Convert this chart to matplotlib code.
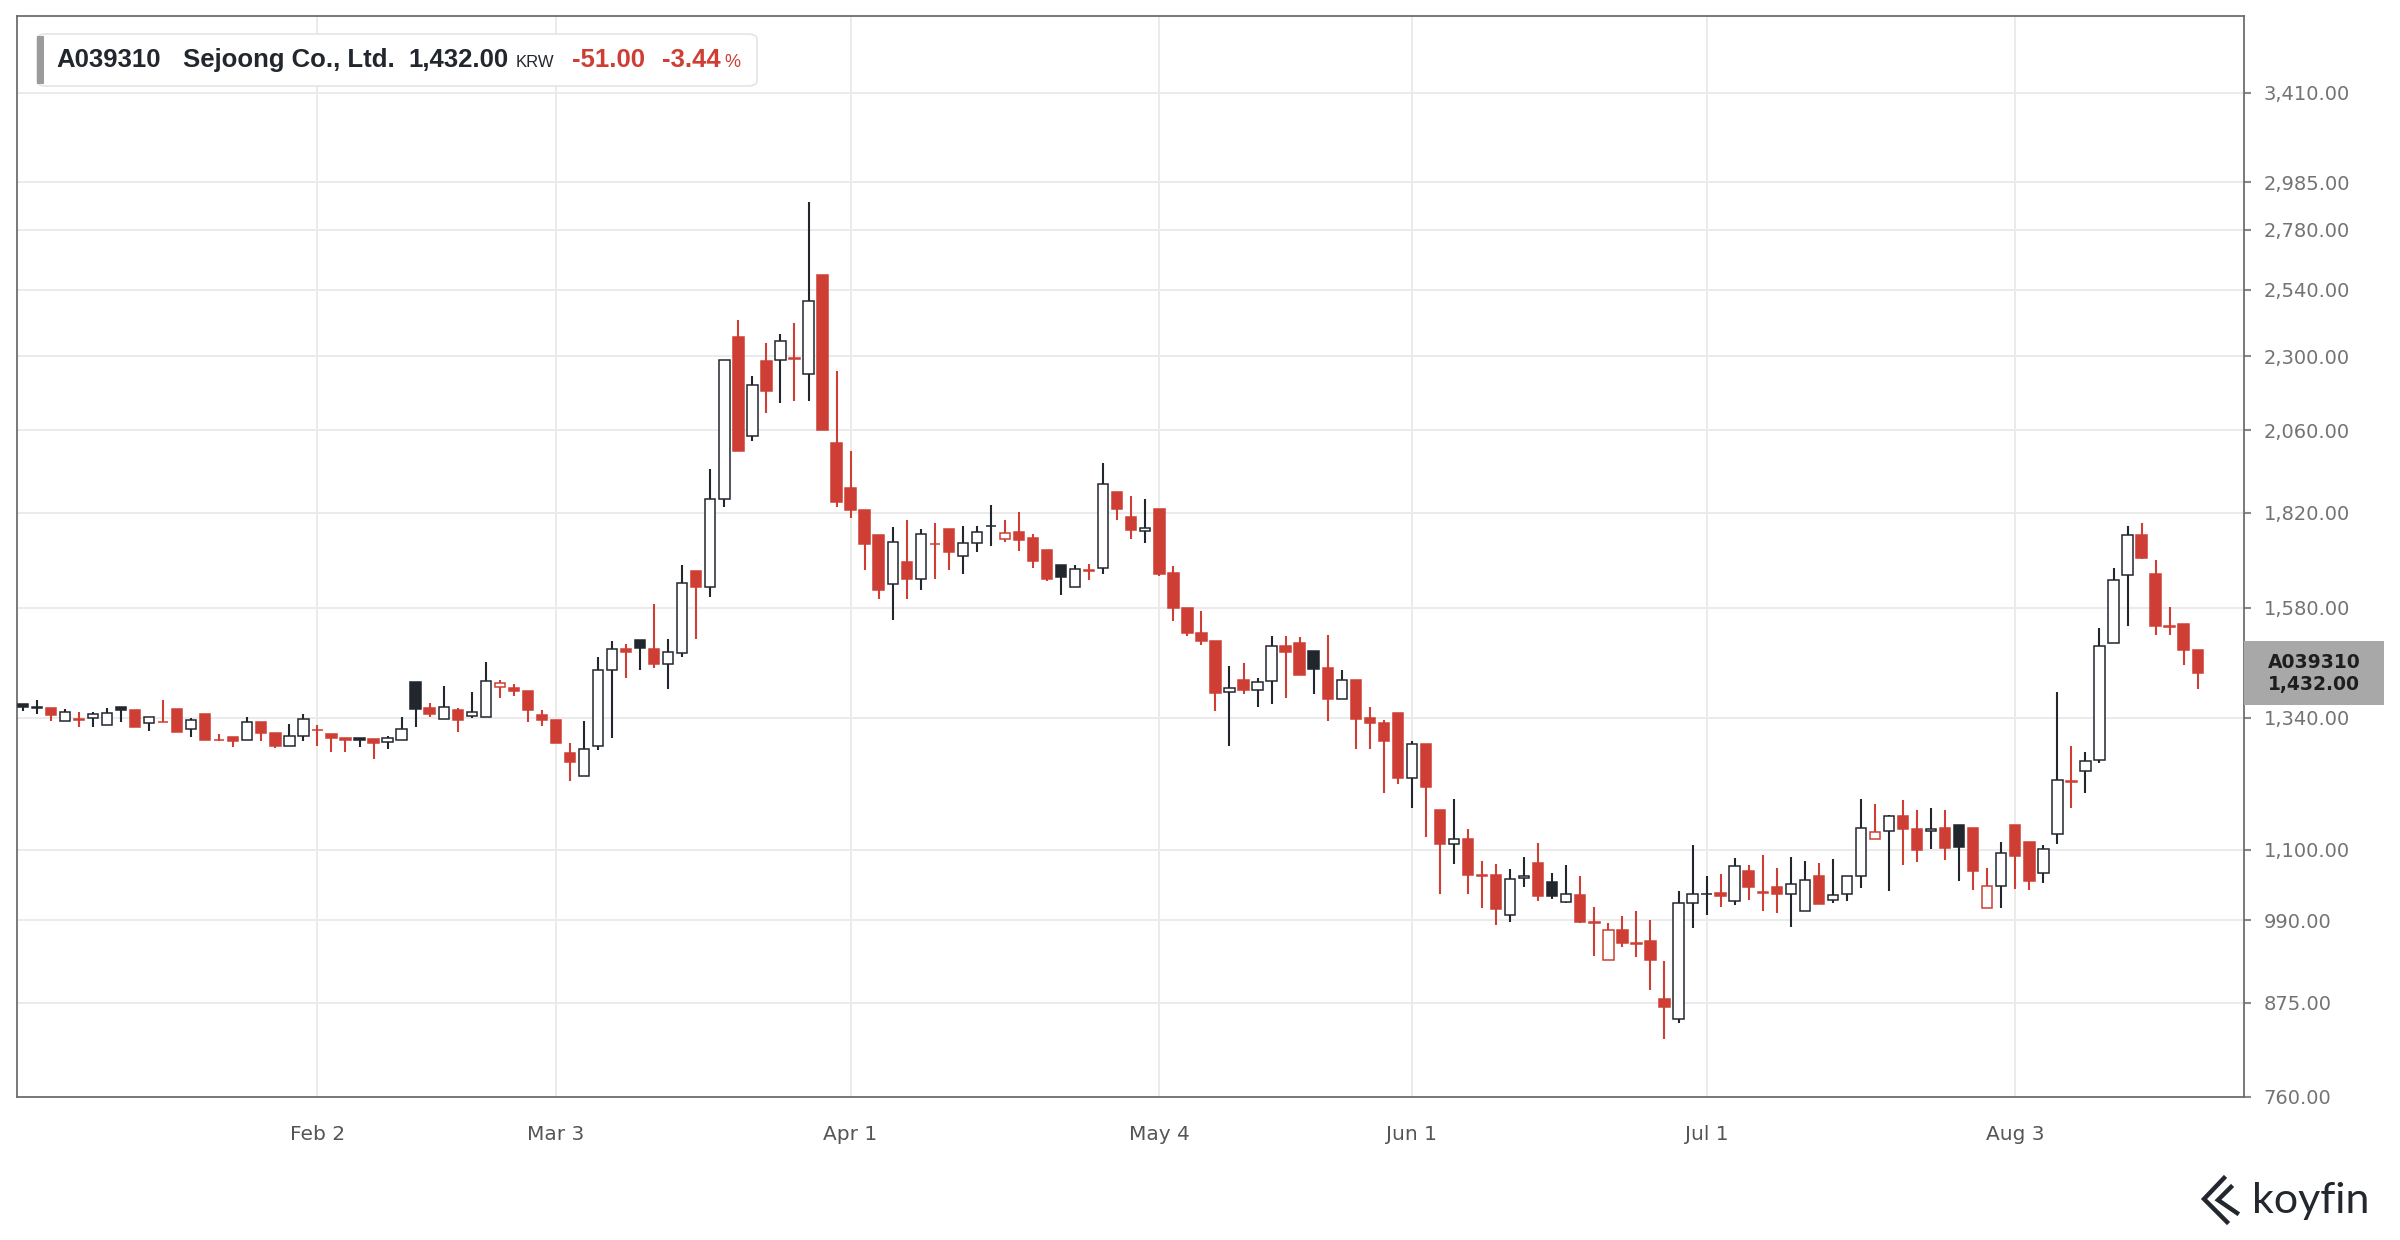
import numpy as np
import matplotlib.pyplot as plt
from matplotlib.patches import FancyBboxPatch, Rectangle
from matplotlib.lines import Line2D
from matplotlib.ticker import FixedLocator, NullLocator, FuncFormatter

# daily OHLC, KRW
opens = [1367, 1360, 1359, 1333, 1337, 1340, 1325, 1362, 1356, 1329,
         1332, 1357, 1317, 1347, 1297, 1302, 1297, 1331, 1309, 1285,
         1304, 1316, 1307, 1299, 1299, 1298, 1292, 1297, 1414, 1359,
         1337, 1356, 1343, 1341, 1403, 1400, 1395, 1346, 1336, 1272,
         1228, 1285, 1439, 1486, 1506, 1485, 1452, 1476, 1669, 1630,
         1857, 2369, 2043, 2285, 2288, 2293, 2239, 2599, 2020, 1890,
         1829, 1762, 1636, 1691, 1650, 1738, 1776, 1707, 1740, 1785,
         1750, 1768, 1752, 1723, 1683, 1628, 1670, 1675, 1879, 1808,
         1772, 1832, 1664, 1578, 1522, 1503, 1393, 1417, 1396, 1415,
         1492, 1498, 1481, 1443, 1378, 1417, 1339, 1329, 1349, 1224,
         1289, 1168, 1110, 1117, 1059, 1059, 998, 1054, 1078, 1048,
         1017, 1028, 987, 933, 975, 957, 959, 880, 854, 1015,
         1029, 1031, 1019, 1065, 1032, 1041, 1029, 1003, 1057, 1021,
         1029, 1058, 1118, 1131, 1157, 1134, 1131, 1136, 1141, 1137,
         1008, 1042, 1141, 1112, 1062, 1126, 1219, 1238, 1257, 1499,
         1659, 1761, 1662, 1537, 1542, 1482]
highs = [1367, 1376, 1359, 1357, 1352, 1352, 1359, 1362, 1356, 1341,
         1376, 1357, 1339, 1347, 1307, 1302, 1342, 1331, 1309, 1327,
         1347, 1325, 1307, 1299, 1299, 1298, 1304, 1341, 1414, 1369,
         1405, 1359, 1393, 1457, 1417, 1410, 1395, 1356, 1336, 1290,
         1334, 1468, 1503, 1497, 1506, 1588, 1508, 1683, 1669, 1943,
         2289, 2430, 2232, 2347, 2378, 2419, 2899, 2599, 2249, 1998,
         1829, 1762, 1783, 1802, 1778, 1794, 1776, 1786, 1784, 1843,
         1801, 1823, 1763, 1723, 1683, 1683, 1686, 1961, 1879, 1866,
         1859, 1832, 1681, 1578, 1572, 1503, 1448, 1455, 1422, 1513,
         1513, 1511, 1481, 1516, 1439, 1417, 1362, 1335, 1349, 1295,
         1289, 1168, 1187, 1134, 1082, 1077, 1069, 1088, 1111, 1062,
         1075, 1058, 1010, 986, 996, 1004, 990, 932, 1034, 1108,
         1057, 1061, 1087, 1075, 1091, 1071, 1088, 1082, 1078, 1085,
         1058, 1186, 1178, 1158, 1184, 1167, 1170, 1168, 1141, 1137,
         1070, 1113, 1141, 1112, 1107, 1393, 1284, 1273, 1533, 1677,
         1786, 1793, 1696, 1582, 1542, 1482]
lows = [1354, 1347, 1334, 1333, 1321, 1321, 1325, 1331, 1322, 1314,
        1331, 1311, 1302, 1296, 1294, 1282, 1296, 1295, 1280, 1284,
        1295, 1284, 1273, 1273, 1282, 1259, 1279, 1297, 1322, 1341,
        1337, 1312, 1339, 1341, 1381, 1385, 1331, 1324, 1290, 1219,
        1228, 1276, 1299, 1422, 1439, 1444, 1399, 1468, 1508, 1604,
        1837, 1998, 2028, 2114, 2144, 2150, 2150, 2059, 1835, 1805,
        1671, 1600, 1551, 1600, 1622, 1648, 1671, 1661, 1717, 1731,
        1742, 1720, 1675, 1644, 1610, 1628, 1646, 1662, 1802, 1750,
        1740, 1657, 1549, 1513, 1494, 1354, 1285, 1388, 1361, 1367,
        1381, 1429, 1389, 1334, 1378, 1278, 1279, 1198, 1214, 1170,
        1121, 1029, 1077, 1029, 1008, 983, 988, 1040, 1019, 1022,
        1015, 986, 938, 933, 951, 937, 892, 829, 849, 979,
        998, 1009, 1012, 1021, 1004, 1001, 980, 1003, 1014, 1016,
        1019, 1039, 1118, 1034, 1075, 1080, 1101, 1084, 1049, 1035,
        1008, 1008, 1038, 1036, 1046, 1109, 1171, 1198, 1252, 1499,
        1537, 1698, 1516, 1516, 1450, 1398]
closes = [1361, 1361, 1346, 1352, 1336, 1347, 1349, 1356, 1322, 1341,
          1331, 1311, 1335, 1297, 1296, 1295, 1331, 1309, 1284, 1304,
          1337, 1315, 1299, 1296, 1297, 1291, 1300, 1317, 1357, 1347,
          1361, 1336, 1352, 1415, 1411, 1394, 1356, 1335, 1290, 1254,
          1278, 1439, 1486, 1479, 1487, 1452, 1479, 1638, 1628, 1857,
          2289, 1998, 2204, 2184, 2353, 2292, 2500, 2059, 1849, 1828,
          1737, 1622, 1742, 1648, 1764, 1737, 1717, 1739, 1768, 1786,
          1766, 1748, 1694, 1650, 1653, 1673, 1669, 1901, 1831, 1774,
          1779, 1661, 1578, 1522, 1503, 1391, 1401, 1396, 1414, 1492,
          1479, 1429, 1442, 1378, 1417, 1337, 1329, 1294, 1224, 1289,
          1208, 1110, 1117, 1059, 1058, 1007, 1053, 1057, 1026, 1027,
          1029, 987, 986, 975, 957, 956, 933, 870, 1015, 1029,
          1030, 1027, 1074, 1040, 1031, 1030, 1045, 1052, 1014, 1028,
          1058, 1136, 1130, 1157, 1134, 1099, 1134, 1103, 1104, 1065,
          1042, 1094, 1089, 1049, 1101, 1220, 1218, 1256, 1492, 1646,
          1761, 1701, 1537, 1535, 1483, 1432]

tick_idx = [21, 38, 59, 81, 99, 120, 142]
tick_labels = ["Feb 2", "Mar 3", "Apr 1", "May 4", "Jun 1", "Jul 1", "Aug 3"]
price_ticks = [760, 875, 990, 1100, 1340, 1580, 1820, 2060, 2300, 2540, 2780, 2985, 3410]

ticker = "A039310"
name = "Sejoong Co., Ltd."
currency = "KRW"
last_price = 1432.00
change = -51.00
change_pct = -3.44

RED = "#cf3e34"
DARK = "#22262d"
W, H = 2400, 1240

fig = plt.figure(figsize=(W / 100, H / 100), dpi=100, facecolor="white")
ax = fig.add_axes([16.7 / W, 1 - 1097 / H, (2244 - 16.7) / W, (1097 - 16) / H])

o = np.array(opens, float)
h = np.array(highs, float)
l = np.array(lows, float)
c = np.array(closes, float)
x = np.arange(len(c))

# colour: close vs previous close, fill: close vs open
prev = np.r_[c[0], c[:-1]]
cols = np.where(c >= prev, DARK, RED)
hollow = c > o
faces = np.where(hollow, "white", cols)

ax.vlines(x, l, h, colors=cols, lw=1.5, zorder=2)
ax.bar(x, np.maximum(np.abs(c - o), 0.5), bottom=np.minimum(o, c), width=0.74,
       color=faces, edgecolor=cols, linewidth=1.1, zorder=3)

ax.set_yscale("log")
ax.set_ylim(760, 3826)
ax.set_xlim(-0.43, 158.3)
ax.yaxis.set_major_locator(FixedLocator(price_ticks))
ax.yaxis.set_minor_locator(NullLocator())
ax.yaxis.set_major_formatter(FuncFormatter(lambda v, p: f"{v:,.2f}"))
ax.yaxis.tick_right()
ax.tick_params(axis="y", which="major", direction="out", length=5, width=1.5,
               color="#8a8a8a", pad=9, labelsize=14, labelcolor="#737373")
ax.set_xticks(tick_idx, tick_labels)
ax.tick_params(axis="x", length=0, pad=20, labelsize=14.5, labelcolor="#555555")
ax.grid(True, color="#ebebeb", lw=1.4)
ax.set_axisbelow(True)
for s in ax.spines.values():
    s.set_color("#6e6e6e")
    s.set_linewidth(1.3)


def fx(px):
    return px / W


def fy(py):
    return 1 - py / H


# header box
fig.add_artist(FancyBboxPatch((fx(37), fy(86)), fx(757) - fx(37), 52 / H,
                              boxstyle="round,pad=0,rounding_size=0.004",
                              transform=fig.transFigure, fc="white", ec="#e4e4e4", lw=1.2))
fig.add_artist(Rectangle((fx(37), fy(84)), 7 / W, 48 / H, transform=fig.transFigure,
                         fc="#9b9b9b", ec="none"))
yb = fy(67)
hdr = dict(family="Liberation Sans", va="baseline", fontweight="bold", fontsize=18.5)
fig.text(fx(56), yb, ticker, color=DARK, **hdr)
fig.text(fx(183), yb, name, color=DARK, **hdr)
fig.text(fx(408), yb, f"{last_price:,.2f}", color=DARK, **hdr)
fig.text(fx(516), yb, currency, color=DARK, family="Liberation Sans", va="baseline", fontsize=12)
fig.text(fx(572), yb, f"{change:,.2f}", color=RED, **hdr)
fig.text(fx(662), yb, f"{change_pct:.2f}", color=RED, **hdr)
fig.text(fx(724), yb, "%", color=RED, family="Liberation Sans", va="baseline", fontsize=13)

# last price tag on the axis
fig.add_artist(Rectangle((fx(2244), fy(705)), 140 / W, 64 / H, transform=fig.transFigure,
                         fc="#a8a8a8", ec="none"))
fig.text(fx(2314), fy(663), ticker, ha="center", va="center", fontsize=13.5,
         fontweight="bold", color="#1e1e1e")
fig.text(fx(2314), fy(685), f"{last_price:,.2f}", ha="center", va="center", fontsize=13.5,
         fontweight="bold", color="#1e1e1e")

# koyfin logo
fig.text(fx(2252), fy(1213), "koyfin", family="Lato", fontsize=31, color="#23272e",
         va="baseline")
for pts in ([(2224, 1178), (2204, 1199), (2227, 1222)], [(2231, 1187), (2218, 1200), (2237, 1213)]):
    xs = [fx(p[0]) for p in pts]
    ys = [fy(p[1]) for p in pts]
    fig.add_artist(Line2D(xs, ys, transform=fig.transFigure, color="#23272e", lw=3.2,
                          solid_joinstyle="miter"))

fig.savefig("out.png", dpi=100, facecolor="white")
